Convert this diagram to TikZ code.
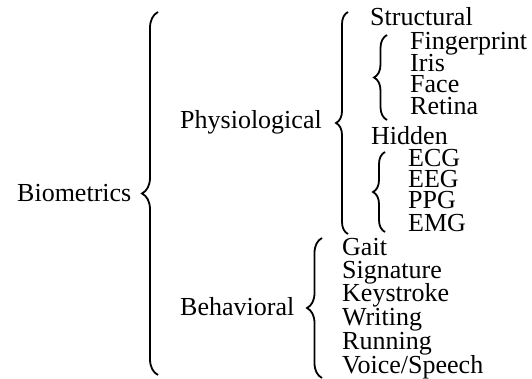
\documentclass[tikz,border=0pt]{standalone}
\usepackage{fontspec}
\setmainfont{Liberation Serif}
\usetikzlibrary{decorations.pathreplacing}
\tikzset{
	lbl/.style={anchor=base west, inner sep=0pt, text height=15pt, text depth=4pt},
	curly/.style={decorate, decoration={brace, amplitude=#1}, line width=1.8pt},
}
\begin{document}
\begin{tikzpicture}[x=1pt,y=-1pt]
\fontsize{26}{30}\selectfont
\useasboundingbox (0,0) rectangle (532,379);
% first and second level
\node[lbl] (bio) at (17,202) {Biometrics};
\node[lbl] (phys) at (180,129) {Physiological};
\node[lbl] (beh) at (180,315) {Behavioral};
\node[lbl] (struct) at (370,26) {Structural};
\node[lbl] (hid) at (371,145) {Hidden};
% leaves
\foreach \i/\t/\y in {1/Fingerprint/50,2/Iris/72,3/Face/93,4/Retina/115}
	\node[lbl] (s\i) at (410,\y) {\t};
\foreach \i/\t/\y in {1/ECG/167,2/EEG/188,3/PPG/209,4/EMG/231}
	\node[lbl] (h\i) at (408,\y) {\t};
\foreach \i/\t/\y in {1/Gait/255,2/Signature/278,3/Keystroke/301,4/Writing/325,5/Running/349,6/{Voice/Speech}/373}
	\node[lbl] (b\i) at (342,\y) {\t};
% braces
\draw[curly=16] (158,375) -- (158,12);
\draw[curly=12] (348,234) -- (348,12);
\draw[curly=15] (322,378) -- (322,238);
\draw[curly=13] (387,120) -- (387,35);
\draw[curly=12] (385,232) -- (385,152);
\end{tikzpicture}
\end{document}
